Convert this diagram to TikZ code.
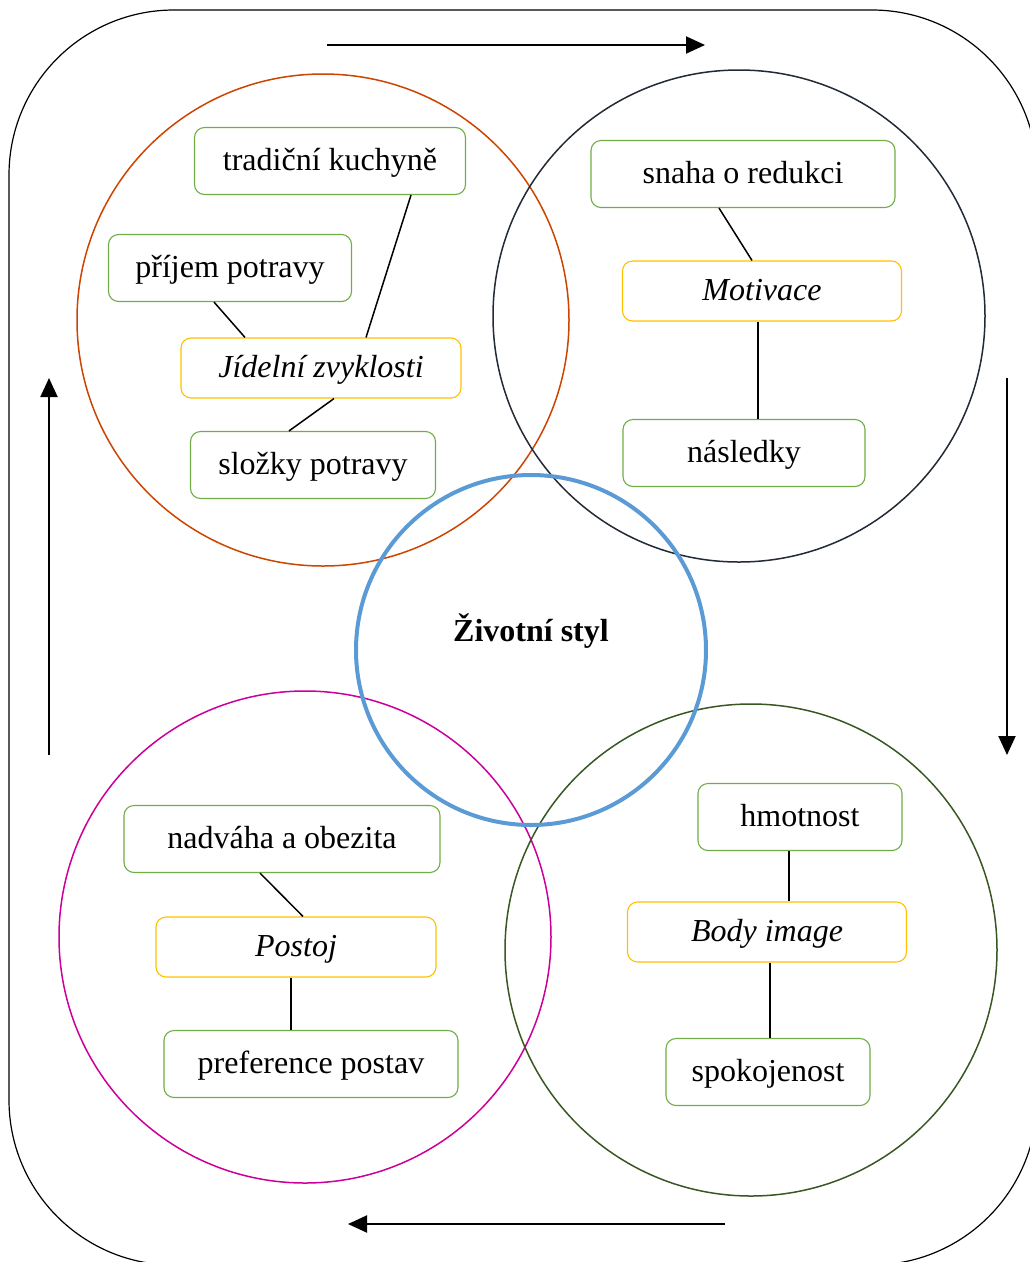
\documentclass[tikz,border=0pt]{standalone}
\usepackage{fontspec}
\setmainfont{Liberation Serif}
\usetikzlibrary{arrows.meta}
\definecolor{kruhcerveny}{RGB}{204,68,0}
\definecolor{kruhtmavy}{RGB}{34,42,53}
\definecolor{kruhmodry}{RGB}{91,155,213}
\definecolor{kruhfialovy}{RGB}{204,0,153}
\definecolor{kruhzeleny}{RGB}{56,87,35}
\definecolor{ramzeleny}{RGB}{112,173,71}
\definecolor{ramzluty}{RGB}{255,192,0}
\tikzset{>={Triangle[length=19pt,width=17pt]}}
\tikzset{
  okno/.style={draw=ramzeleny, line width=1.1pt, rounded corners=10pt,
    minimum height=67pt, inner sep=0pt, text height=23pt, text depth=5pt},
  pojem/.style={okno, draw=ramzluty, minimum height=60pt,
    font=\fontsize{32}{38}\selectfont\itshape},
  kruh/.style={circle, line width=1.5pt, minimum size=492pt, inner sep=0pt},
  spoj/.style={line width=1.5pt},
  sipka/.style={->, line width=2pt}
}

\begin{document}
\begin{tikzpicture}[x=1pt, y=-1pt, font=\fontsize{32}{38}\selectfont]
  \useasboundingbox (0,0) rectangle (1030,1262);
  \clip (0,0) rectangle (1030,1262);
  % outer frame
  \draw[line width=1.2pt, rounded corners=165pt] (9,10) rectangle (1037,1265);
  % circles
  \node[kruh, draw=kruhcerveny] (kjidel) at (323,320) {};
  \node[kruh, draw=kruhtmavy] (kmotiv) at (739,316) {};
  \node[kruh, draw=kruhfialovy] (kpostoj) at (305,937) {};
  \node[kruh, draw=kruhzeleny] (kbody) at (751,950) {};
  \node[circle, draw=kruhmodry, line width=4pt, minimum size=350pt, inner sep=0pt]
    (kstyl) at (531,650) {};
  \node[font=\fontsize{32}{38}\selectfont\bfseries] (styl) at (531,631) {Životní styl};
  % boxes
  \node[okno, minimum width=271pt] (trad) at (330,161) {tradiční kuchyně};
  \node[okno, minimum width=243pt] (prijem) at (230,268) {příjem potravy};
  \node[pojem, minimum width=280pt] (jidel) at (321,368) {Jídelní zvyklosti};
  \node[okno, minimum width=245pt] (slozky) at (313,465) {složky potravy};
  \node[okno, minimum width=304pt] (snaha) at (743,174) {snaha o redukci};
  \node[pojem, minimum width=279pt] (motiv) at (762,291) {Motivace};
  \node[okno, minimum width=242pt] (nasled) at (744,453) {následky};
  \node[okno, minimum width=316pt] (nadvaha) at (282,839) {nadváha a obezita};
  \node[pojem, minimum width=280pt] (postoj) at (296,947) {Postoj};
  \node[okno, minimum width=294pt] (prefer) at (311,1064) {preference postav};
  \node[okno, minimum width=204pt] (hmot) at (800,817) {hmotnost};
  \node[pojem, minimum width=279pt] (body) at (767,932) {Body image};
  \node[okno, minimum width=204pt] (spokoj) at (768,1072) {spokojenost};
  % connectors
  \draw[spoj] ([xshift=81pt]trad.south) -- ([xshift=45pt]jidel.north);
  \draw[spoj] ([xshift=-16pt]prijem.south) -- ([xshift=-76pt]jidel.north);
  \draw[spoj] ([xshift=13pt]jidel.south) -- ([xshift=-24pt]slozky.north);
  \draw[spoj] ([xshift=-24pt]snaha.south) -- ([xshift=-10pt]motiv.north);
  \draw[spoj] ([xshift=-4pt]motiv.south) -- ([xshift=14pt]nasled.north);
  \draw[spoj] ([xshift=-22pt]nadvaha.south) -- ([xshift=7pt]postoj.north);
  \draw[spoj] ([xshift=-5pt]postoj.south) -- ([xshift=-20pt]prefer.north);
  \draw[spoj] ([xshift=-11pt]hmot.south) -- ([xshift=22pt]body.north);
  \draw[spoj] ([xshift=3pt]body.south) -- ([xshift=2pt]spokoj.north);
  % arrows round the frame
  \coordinate (hore1) at (327,45);
  \coordinate (hore2) at (705,45);
  \coordinate (vpravo1) at (1007,378);
  \coordinate (vpravo2) at (1007,755);
  \coordinate (dole1) at (725,1224);
  \coordinate (dole2) at (348,1224);
  \coordinate (vlavo1) at (49,755);
  \coordinate (vlavo2) at (49,378);
  \draw[sipka] (hore1) -- (hore2);
  \draw[sipka] (vpravo1) -- (vpravo2);
  \draw[sipka] (dole1) -- (dole2);
  \draw[sipka] (vlavo1) -- (vlavo2);
\end{tikzpicture}
\end{document}
